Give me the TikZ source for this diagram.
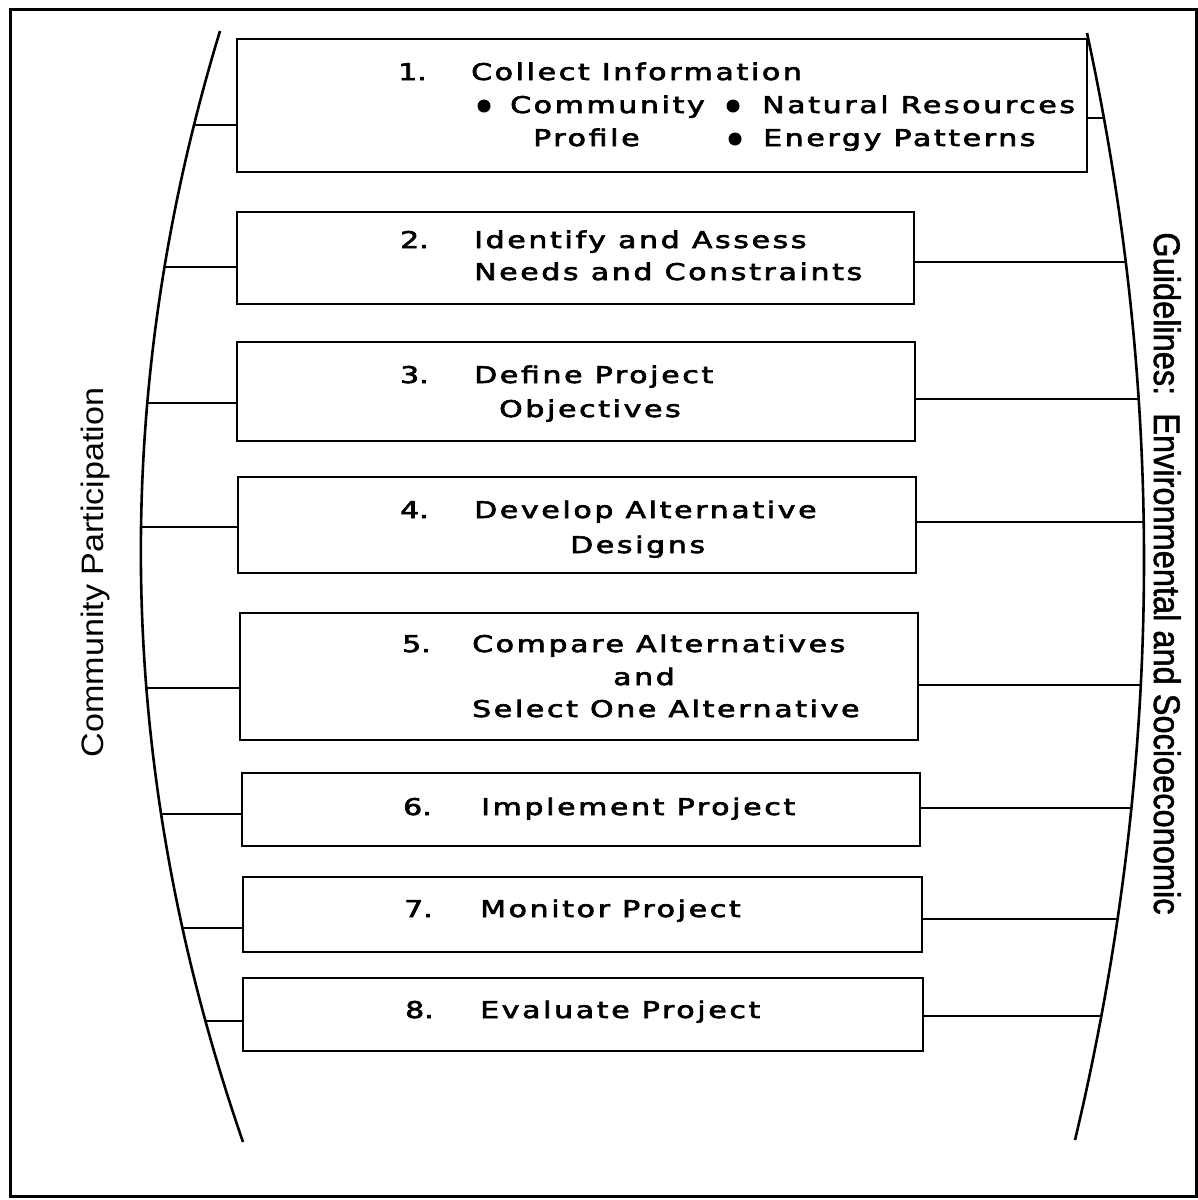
\documentclass[tikz,border=0pt]{standalone}
\usepackage{fontspec}
\setmainfont{Liberation Sans}
\newfontfamily\boxfont[LetterSpace=9,FakeBold=2.5]{DejaVu Sans}
\newfontfamily\numfont[FakeBold=2.5]{DejaVu Sans}
\newfontfamily\sidefont{Liberation Sans}
\newfontfamily\rightfont[FakeBold=1.5]{Liberation Sans}
\newcommand{\bt}[1]{\scalebox{1.3}[1]{\boxfont\fontsize{23}{28}\selectfont #1}}
\newcommand{\bn}[1]{\scalebox{1.3}[1]{\numfont\fontsize{23}{28}\selectfont #1}}
\begin{document}
\begin{tikzpicture}[x=1pt,y=-1pt,
  stepbox/.style={draw, line width=2.8pt, inner sep=0pt},
  lbl/.style={anchor=base west, inner sep=0pt},
  conn/.style={line width=2.2pt},
  bracket/.style={line width=2.6pt}]
\useasboundingbox (0,0) rectangle (1198,1200);
% outer frame
\draw[line width=3pt] (10,9) rectangle (1196,1196);
% side curves
\draw[bracket] (220,31) .. controls (107.3,401.3) and (115,771.7) .. (243,1142);
\draw[bracket] (1087,33) .. controls (1166.8,402) and (1162.8,771) .. (1075,1140);
% boxes
\node[stepbox, minimum width=850pt, minimum height=133pt] (b1) at (662,105.5) {};
\node[stepbox, minimum width=677pt, minimum height=92pt] (b2) at (575.5,258) {};
\node[stepbox, minimum width=678pt, minimum height=99pt] (b3) at (576,391.5) {};
\node[stepbox, minimum width=678pt, minimum height=96pt] (b4) at (577,525) {};
\node[stepbox, minimum width=678pt, minimum height=127pt] (b5) at (579,676.5) {};
\node[stepbox, minimum width=678pt, minimum height=73pt] (b6) at (581,809.5) {};
\node[stepbox, minimum width=679pt, minimum height=75pt] (b7) at (582.5,914.5) {};
\node[stepbox, minimum width=680pt, minimum height=73pt] (b8) at (583,1014.5) {};
% curve points (left)
\coordinate (l1) at (194,125);
\coordinate (l2) at (164.6,267);
\coordinate (l3) at (147.4,403);
\coordinate (l4) at (141.2,527);
\coordinate (l5) at (146.5,688);
\coordinate (l6) at (161.2,814);
\coordinate (l7) at (182.5,928);
\coordinate (l8) at (205.5,1021);
% curve points (right)
\coordinate (r1) at (1103.9,118);
\coordinate (r2) at (1125.8,262);
\coordinate (r3) at (1138.7,399);
\coordinate (r4) at (1143.7,522);
\coordinate (r5) at (1140.8,685);
\coordinate (r6) at (1131.4,808);
\coordinate (r7) at (1117.5,919);
\coordinate (r8) at (1101.3,1016);
\foreach \i in {1,...,8}{
  \draw[conn] (l\i) -- (l\i -| b\i.west);
  \draw[conn] (b\i.east |- r\i) -- (r\i);
}
% texts box 1
\node[lbl] (n1) at (398,80) {\bn{1.}};
\node[lbl] (t1a) at (471,80) {\bt{Collect Information}};
\fill (484,106) circle (6.5);
\node[lbl] (t1b) at (510,113) {\bt{Community}};
\fill (733,106) circle (6.5);
\node[lbl] (t1c) at (762,113) {\bt{Natural Resources}};
\node[lbl] (t1d) at (533,146) {\bt{Profile}};
\fill (735,139) circle (6.5);
\node[lbl] (t1e) at (763,146) {\bt{Energy Patterns}};
% box 2
\node[lbl] (n2) at (400,248) {\bn{2.}};
\node[lbl] (t2a) at (474,248) {\bt{Identify and Assess}};
\node[lbl] (t2b) at (474,280) {\bt{Needs and Constraints}};
% box 3
\node[lbl] (n3) at (400,383) {\bn{3.}};
\node[lbl] (t3a) at (474,383) {\bt{Define Project}};
\node[lbl] (t3b) at (499,417) {\bt{Objectives}};
% box 4
\node[lbl] (n4) at (400,518) {\bn{4.}};
\node[lbl] (t4a) at (474,518) {\bt{Develop Alternative}};
\node[lbl] (t4b) at (570,553) {\bt{Designs}};
% box 5
\node[lbl] (n5) at (402,652) {\bn{5.}};
\node[lbl] (t5a) at (472,652) {\bt{Compare Alternatives}};
\node[lbl] (t5b) at (613,685) {\bt{and}};
\node[lbl] (t5c) at (472,717) {\bt{Select One Alternative}};
% boxes 6-8
\node[lbl] (n6) at (403,815) {\bn{6.}};
\node[lbl] (t6) at (481,815) {\bt{Implement Project}};
\node[lbl] (n7) at (404,917) {\bn{7.}};
\node[lbl] (t7) at (480,917) {\bt{Monitor Project}};
\node[lbl] (n8) at (405,1018) {\bn{8.}};
\node[lbl] (t8) at (480,1018) {\bt{Evaluate Project}};
% side labels
\node[rotate=90, anchor=base, inner sep=0pt] (cp) at (103,572.5)
  {\scalebox{1.1}[1]{\sidefont\fontsize{31}{36}\selectfont Community Participation}};
\node[rotate=-90, anchor=base, inner sep=0pt] (gl) at (1154,573.5)
  {\scalebox{0.88}[1]{\rightfont\fontsize{37}{42}\selectfont Guidelines:\ \ Environmental and Socioeconomic}};
\end{tikzpicture}
\end{document}
